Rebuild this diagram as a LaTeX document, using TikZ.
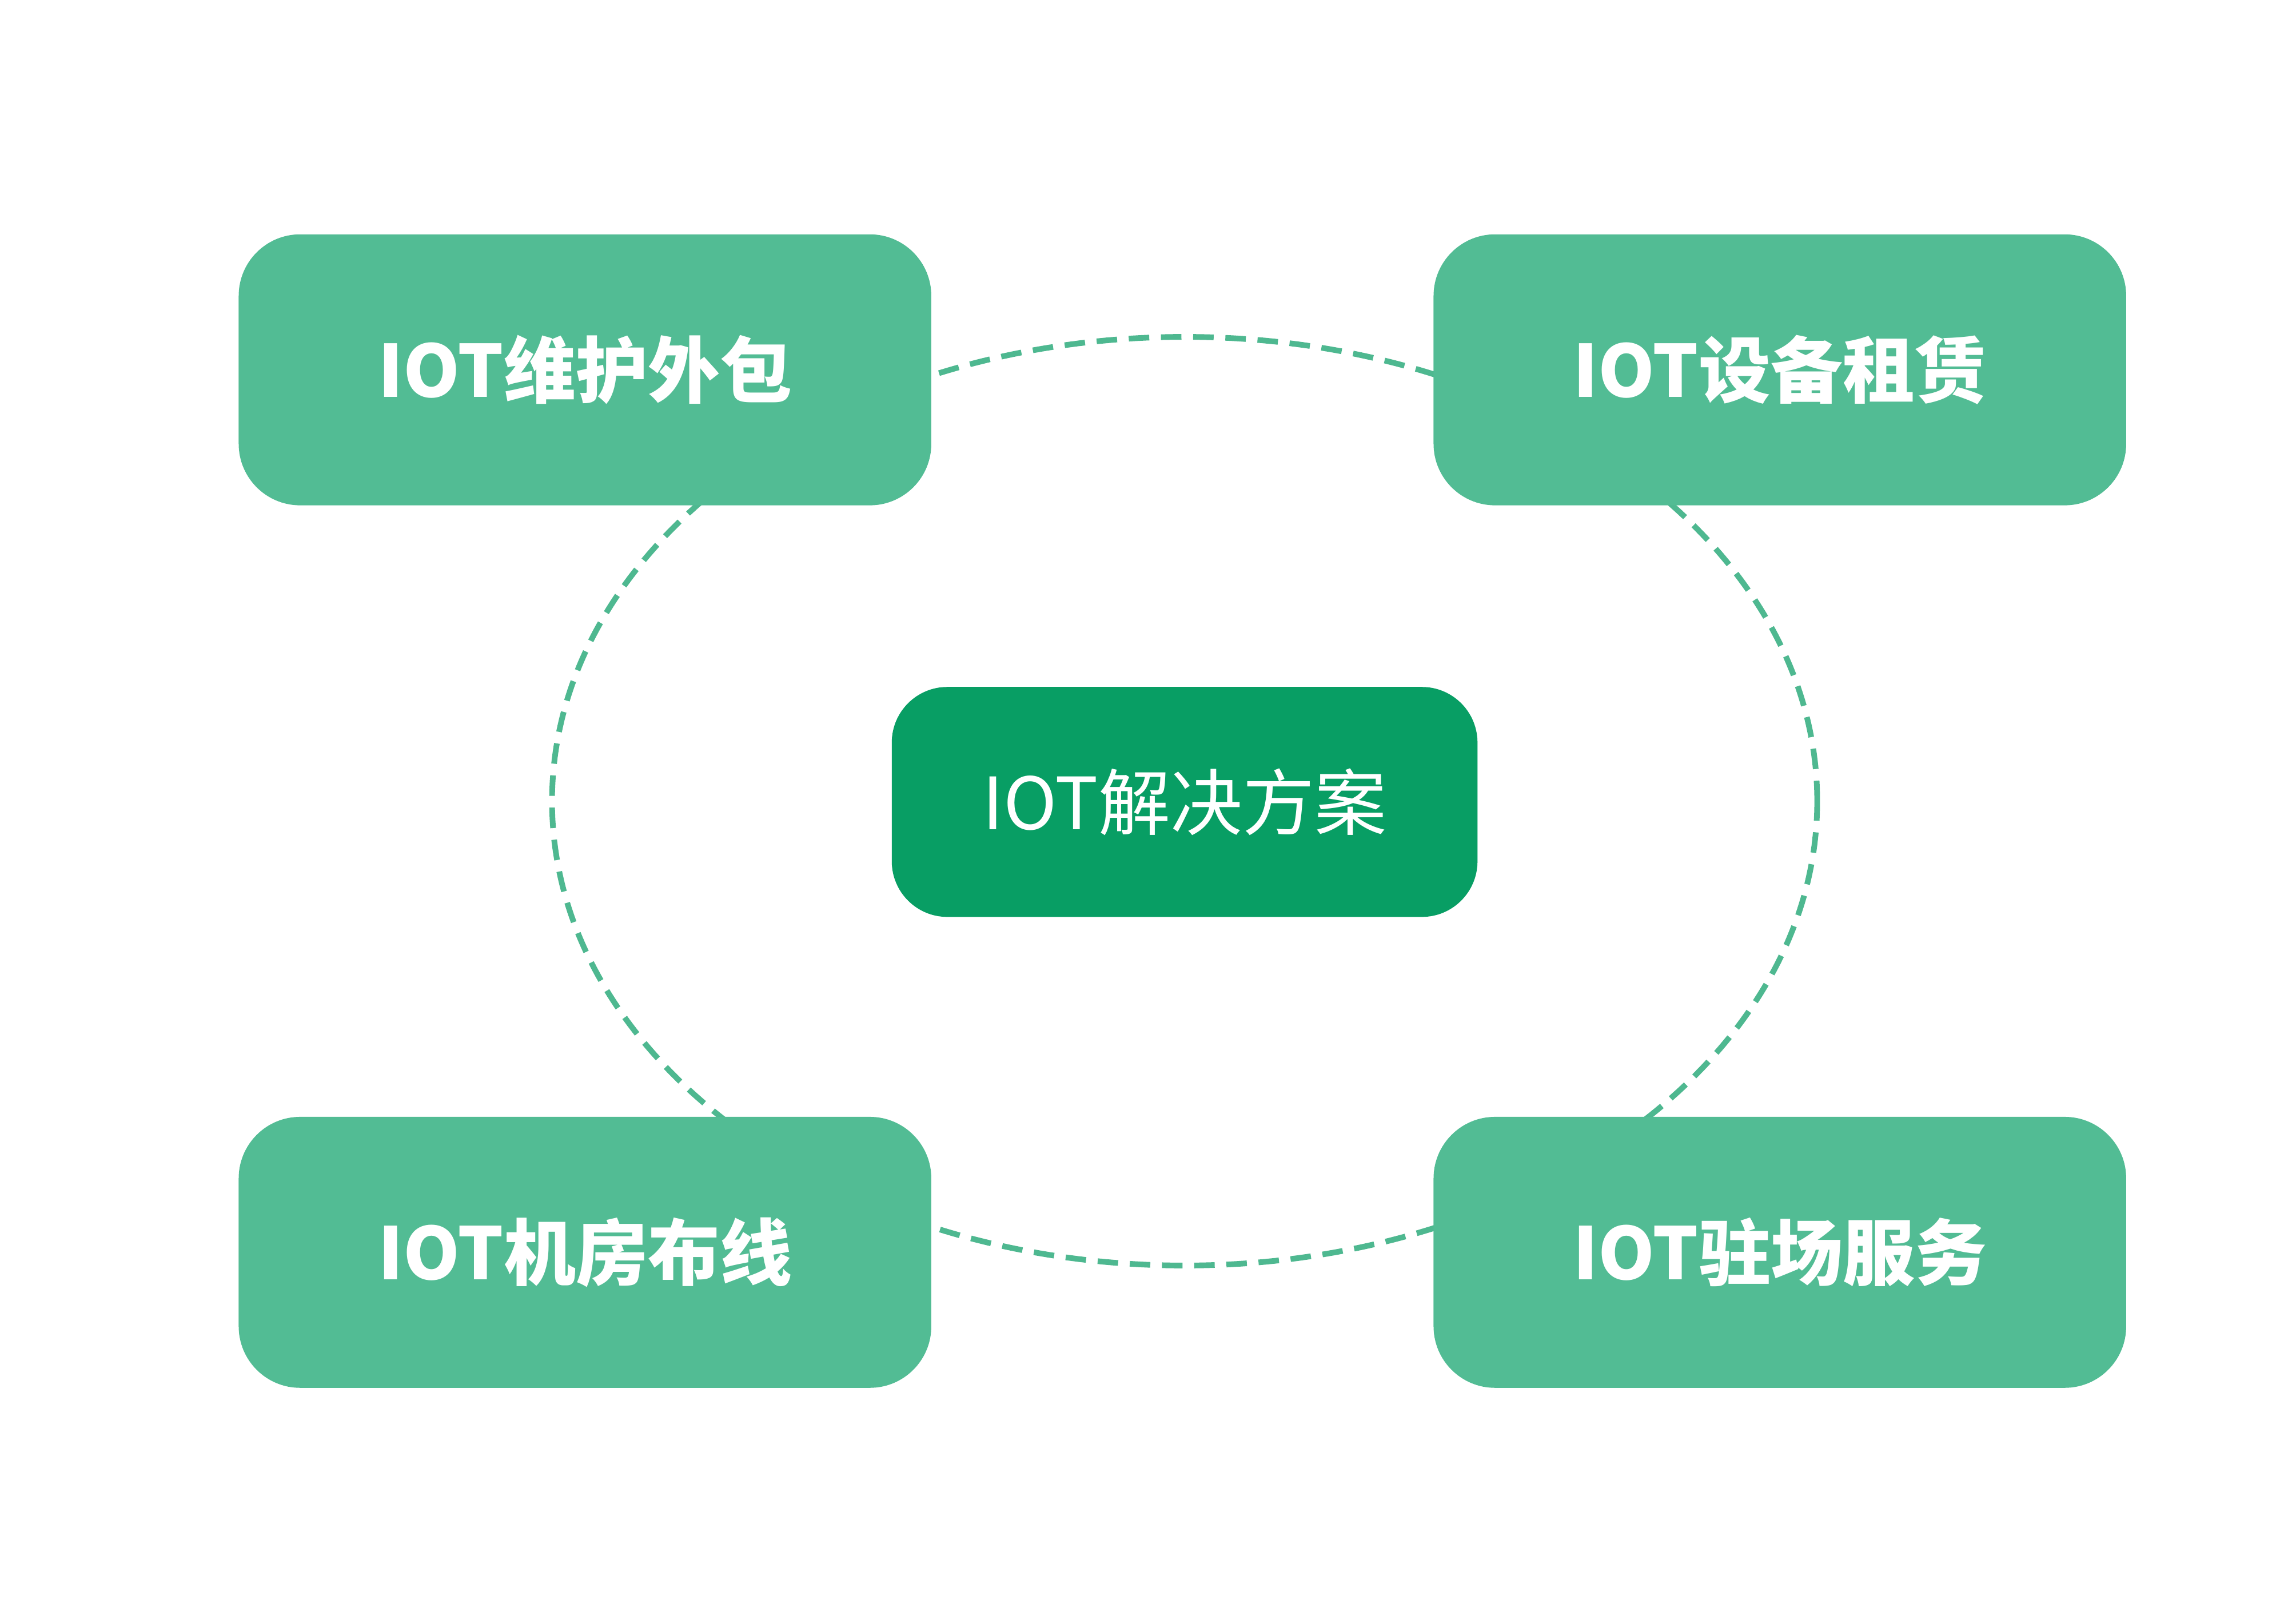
\documentclass[tikz,border=0pt]{standalone}
\usepackage{fontspec}
\newfontfamily\cjk{Noto Sans CJK SC}
\usepackage{tikz}
\definecolor{leafgreen}{RGB}{82,188,148}
\definecolor{deepgreen}{RGB}{8,158,100}
\definecolor{ringgreen}{RGB}{78,184,144}

\begin{document}
\begin{tikzpicture}[
  service/.style={fill=leafgreen, rounded corners=0.42cm, minimum width=4.73cm,
    minimum height=1.85cm, inner sep=0pt, text=white,
    font=\cjk\bfseries\fontsize{14}{16}\selectfont},
  core/.style={fill=deepgreen, rounded corners=0.38cm, minimum width=4.0cm,
    minimum height=1.57cm, inner sep=0pt, text=white,
    font=\cjk\fontsize{14}{16}\selectfont}]
  % White canvas
  \useasboundingbox[fill=white] (0,0) rectangle (15.68,11.08);
  % Dashed ring behind the boxes
  \draw[ringgreen, line width=1.1pt, dash pattern=on 1.4mm off 0.8mm]
    (8.09,5.61) ellipse (4.32 and 3.17);
  % Centre box
  \node[core] (iot) at (8.09,5.605) {IOT解决方案};
  % Four service boxes
  \node[service] (maint) at (3.995,8.555) {IOT维护外包};
  \node[service] (rent) at (12.155,8.555) {IOT设备租赁};
  \node[service] (wiring) at (3.995,2.53) {IOT机房布线};
  \node[service] (onsite) at (12.155,2.53) {IOT驻场服务};
\end{tikzpicture}
\end{document}
